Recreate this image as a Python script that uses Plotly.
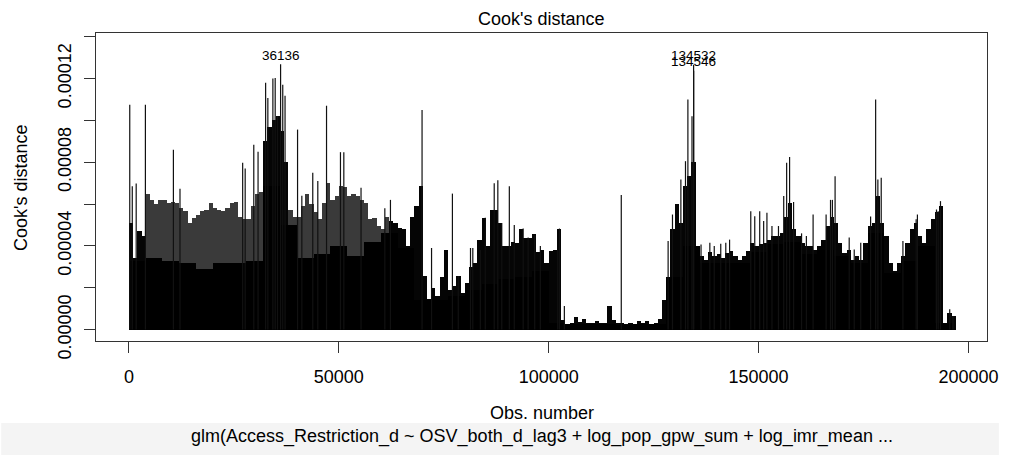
import plotly.graph_objects as go

# ---------------- data (Cook's distance, values in units of 1e-5) ----------------
BLOCK = 1000          # observations per comb block
block_max_e5 = [
    5.1, 3.4, 4.7, 4.47, 6.5, 6.2, 6.0, 6.2, 6.2, 6.05,
    6.1, 6.06, 5.8, 5.65, 5.1, 5.35, 5.5, 5.65, 5.74, 6.06,
    5.8, 5.74, 5.65, 5.8, 6.06, 6.1, 5.4, 5.3, 5.27, 5.9,
    6.5, 6.6, 9.0, 9.7, 10.0, 10.2, 9.5, 8.0, 5.7, 5.4,
    5.4, 5.9, 6.5, 6.0, 5.6, 5.3, 6.06, 7.0, 6.2, 6.4,
    6.85, 6.8, 6.4, 6.5, 6.4, 6.2, 6.06, 5.27, 5.35, 4.95,
    4.8, 5.4, 5.2, 5.1, 4.87, 4.79, 4.0, 5.4, 5.9, 6.85,
    2.56, 1.45, 2.0, 1.6, 2.5, 3.8, 1.9, 2.1, 2.56, 1.76,
    2.24, 3.0, 3.2, 4.3, 5.35, 4.0, 5.7, 5.7, 5.1, 4.0,
    4.0, 4.2, 4.15, 4.8, 4.4, 4.4, 4.55, 3.7, 3.8, 3.2,
    3.75, 3.8, 4.8, 0.45, 0.25, 0.3, 0.62, 0.35, 0.52, 0.3,
    0.3, 0.4, 0.3, 0.3, 1.13, 0.48, 0.3, 0.3, 0.25, 0.3,
    0.25, 0.4, 0.3, 0.4, 0.25, 0.3, 0.5, 1.4, 2.5, 4.8,
    6.0, 5.1, 6.85, 7.33, 8.0, 4.0, 3.5, 3.35, 3.7, 3.5,
    3.6, 3.4, 3.65, 3.75, 3.5, 3.35, 3.5, 3.75, 4.15, 4.0,
    4.07, 4.15, 4.3, 4.47, 4.47, 4.6, 5.4, 6.06, 4.8, 4.47,
    4.15, 4.0, 4.0, 3.8, 4.0, 4.3, 4.95, 5.4, 5.1, 4.15,
    3.65, 3.8, 3.35, 3.5, 3.35, 4.15, 4.95, 5.1, 6.4, 5.1,
    4.47, 3.2, 2.8, 3.2, 3.5, 4.15, 4.8, 5.1, 4.47, 4.15,
    4.8, 5.27, 5.6, 5.9, 0.33, 0.8, 0.65,
]

FLOOR_BLOCK = 4000    # observations per solid-core block
floor_e5 = [
    3.3, 3.4, 3.3, 3.2, 2.9, 3.2, 3.2, 3.3, 6.85, 5.0,
    3.4, 3.6, 4.0, 3.5, 4.2, 4.6, 3.9, 1.4, 1.4, 1.6,
    1.9, 2.2, 2.4, 2.5, 2.8, 0.3, 0.25, 0.25, 0.25, 0.22,
    0.25, 0.25, 2.5, 4.0, 3.2, 3.2, 3.2, 3.7, 4.1, 4.2,
    3.6, 3.8, 3.5, 3.2, 4.6, 2.7, 3.3, 4.0, 0.3,
]

spike_obs = [
    200, 800, 1735, 3930, 10600, 12170, 27100, 27700, 29750, 30770,
    32570, 33100, 34300, 34850, 35400, 36136, 36650, 37200, 40180, 41200,
    43800, 45000, 47080, 50400, 51200, 55300, 60970, 62310, 69840, 72100,
    77070, 78470, 81380, 81930, 83730, 84900, 87030, 87890, 88830, 90630,
    91810, 93930, 95110, 96680, 98020, 102170, 102570, 103740, 117300,
    128460, 129500, 131500, 132600, 133170, 134150, 134532, 134546,
    136300, 138400, 139450, 141000, 142200, 143100, 148150, 149100, 150280,
    151220, 152000, 153200, 154750, 156000, 156700, 157400, 158350, 160250,
    161400, 163000, 166100, 167150, 167600, 168240, 171600, 172800, 174350,
    176700, 177900, 178430, 179230, 184400, 187550, 187850, 192400, 192800,
    193350, 195550, 196330,
]
spike_e5 = [
    10.75, 6.85, 6.98, 10.75, 8.6, 6.73, 7.97, 7.7, 8.84, 8.5,
    11.8, 11.07, 12.0, 12.03, 10.2, 12.68, 11.7, 11.18, 9.56, 6.4,
    7.5, 7.1, 10.7, 8.48, 8.48, 6.78, 5.8, 6.2, 10.5, 3.9,
    6.5, 2.56, 3.9, 3.9, 3.8, 5.35, 7.0, 7.14, 5.1, 6.85,
    5.0, 4.83, 4.4, 4.5, 4.0, 3.8, 4.83, 1.13, 6.43,
    4.23, 5.5, 7.17, 8.05, 11.0, 10.2, 12.66, 12.37,
    4.07, 4.15, 4.0, 4.1, 4.15, 4.3, 5.66, 5.42, 5.66,
    5.19, 5.58, 4.95, 4.95, 6.38, 7.97, 8.25, 6.1, 4.6,
    4.47, 5.5, 5.5, 6.2, 6.2, 7.33, 4.4, 3.83, 4.15,
    5.4, 11.0, 7.17, 7.26, 4.23, 5.27, 5.5, 5.74, 5.66,
    6.14, 0.97, 0.65,
]

label_obs = [36136, 134532, 134546]
label_e5 = [12.68, 12.66, 12.37]

x_ticks = [0, 50000, 100000, 150000, 200000]
y_ticks = [0, 2e-5, 4e-5, 6e-5, 8e-5, 1e-4, 1.2e-4, 1.4e-4]
y_ticktext = ["0.00000", "", "0.00004", "", "0.00008", "", "0.00012", ""]

UNIT = 1e-5
FONT = "Liberation Sans, Arial, Helvetica, sans-serif"

# observation ranges where the spikes are so dense that they blur to dark grey
GREY_RANGES = [(4000, 32000), (38000, 62000)]
GREY = "#3a3a3a"
BLACK = "#050505"

# ---------------- figure ----------------
fig = go.Figure()

comb_x = [k * BLOCK + BLOCK / 2 for k in range(len(block_max_e5))]
comb_col = [GREY if any(a <= x < b for a, b in GREY_RANGES) else BLACK
            for x in comb_x]

# dense comb of spikes (block maxima)
fig.add_trace(go.Bar(
    x=comb_x,
    y=[v * UNIT for v in block_max_e5],
    width=BLOCK,
    marker=dict(color=comb_col, line=dict(width=0)),
    hoverinfo="skip", showlegend=False,
))

# solid black core
fig.add_trace(go.Bar(
    x=[j * FLOOR_BLOCK + FLOOR_BLOCK / 2 for j in range(len(floor_e5))],
    y=[v * UNIT for v in floor_e5],
    width=FLOOR_BLOCK,
    marker=dict(color="#000000", line=dict(width=0)),
    hoverinfo="skip", showlegend=False,
))

# individual tall spikes (type = "h")
sx, sy = [], []
for o, v in zip(spike_obs, spike_e5):
    sx += [o, o, None]
    sy += [0, v * UNIT, None]
fig.add_trace(go.Scatter(
    x=sx, y=sy, mode="lines",
    line=dict(color="#111111", width=1.2),
    hoverinfo="skip", showlegend=False,
))

annotations = []
for o, v in zip(label_obs, label_e5):
    annotations.append(dict(
        x=o, y=v * UNIT, xref="x", yref="y", text=str(o),
        showarrow=False, yanchor="middle", xanchor="center", yshift=9,
        font=dict(family=FONT, size=13.5, color="#000"),
    ))

PW = 902.0
PH = 308.0
def py(p):  # pixel y -> paper y
    return (341.0 - p) / PH
def px(p):  # pixel x -> paper x
    return (p - 96.0) / PW

annotations += [
    dict(text="Cook's distance", xref="paper", yref="paper", x=0.5, y=py(19),
         xanchor="center", yanchor="middle", showarrow=False,
         font=dict(family=FONT, size=18, color="#000")),
    dict(text="Obs. number", xref="paper", yref="paper", x=0.5, y=py(413),
         xanchor="center", yanchor="middle", showarrow=False,
         font=dict(family=FONT, size=18, color="#000")),
    dict(text="glm(Access_Restriction_d ~ OSV_both_d_lag3 + log_pop_gpw_sum + log_imr_mean ...",
         xref="paper", yref="paper", x=0.5, y=py(436),
         xanchor="center", yanchor="middle", showarrow=False,
         font=dict(family=FONT, size=18, color="#000")),
    dict(text="Cook's distance", xref="paper", yref="paper", x=px(20), y=0.5,
         xanchor="center", yanchor="middle", showarrow=False, textangle=-90,
         font=dict(family=FONT, size=18, color="#000")),
]

fig.update_layout(
    width=1010, height=455,
    margin=dict(l=96, r=12, t=33, b=114, pad=0),
    paper_bgcolor="white", plot_bgcolor="white",
    barmode="overlay", bargap=0,
    showlegend=False,
    annotations=annotations,
    shapes=[dict(type="rect", xref="paper", yref="paper",
                 x0=px(0), x1=px(1010), y0=py(455), y1=py(423),
                 fillcolor="#f4f4f4", line=dict(width=0), layer="below")],
    xaxis=dict(
        range=[-7840, 204430], tickvals=x_ticks,
        ticktext=[str(t) for t in x_ticks],
        ticks="outside", ticklen=11, tickwidth=1, tickcolor="#333",
        showline=True, mirror=True, linecolor="#333", linewidth=1,
        showgrid=False, zeroline=False,
        tickfont=dict(family=FONT, size=18, color="#000"),
        ticklabelstandoff=8,
    ),
    yaxis=dict(
        range=[-5.45e-6, 1.4176e-4], tickvals=y_ticks, ticktext=y_ticktext,
        tickangle=-90,
        ticks="outside", ticklen=11, tickwidth=1, tickcolor="#333",
        showline=True, mirror=True, linecolor="#333", linewidth=1,
        showgrid=False, zeroline=False,
        tickfont=dict(family=FONT, size=18, color="#000"),
        ticklabelstandoff=6,
    ),
)

fig.write_html("out.html")
